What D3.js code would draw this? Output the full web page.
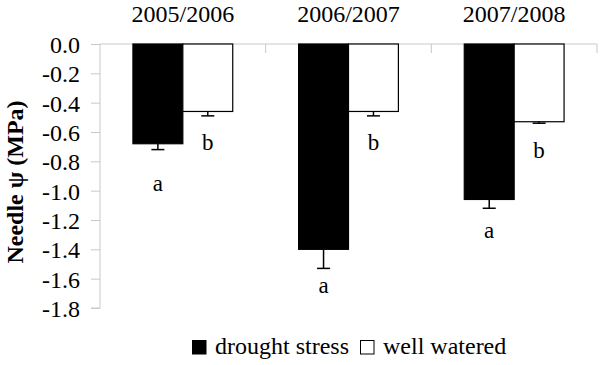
<!DOCTYPE html>
<html>
<head>
<meta charset="utf-8">
<script src="https://cdn.jsdelivr.net/npm/d3@7"></script>
<style>
  html, body { margin: 0; padding: 0; background: #fff; }
  svg { display: block; }
</style>
</head>
<body>
<svg id="chart" width="600" height="365"></svg>
<script>
// ---- data ----
const categories = ["2005/2006", "2006/2007", "2007/2008"];
const seriesNames = ["drought stress", "well watered"];
const droughtValues = [-0.68, -1.40, -1.06];
const droughtErrors = [0.04, 0.13, 0.06];
const wateredValues = [-0.46, -0.46, -0.53];
const wateredErrors = [0.03, 0.03, 0.01];
const droughtLetters = ["a", "a", "a"];
const wateredLetters = ["b", "b", "b"];
// letter baseline positions, in MPa units
const droughtLetterAt = [-1.00, -1.70, -1.32];
const wateredLetterAt = [-0.72, -0.72, -0.78];
const yTicks = [0, -0.2, -0.4, -0.6, -0.8, -1.0, -1.2, -1.4, -1.6, -1.8];
const yTitle = "Needle ψ (MPa)";

const seriesFill = { "drought stress": "#000000", "well watered": "#ffffff" };

const series = [
  { name: seriesNames[0], values: droughtValues, errors: droughtErrors, letters: droughtLetters, letterAt: droughtLetterAt },
  { name: seriesNames[1], values: wateredValues, errors: wateredErrors, letters: wateredLetters, letterAt: wateredLetterAt }
];

const FONT = "'Liberation Serif'";
const svg = d3.select("#chart");
const mLeft = 100, mRight = 597, mTop = 44, mBottom = 308;
const axisColor = "#c8c8c8";

const x0 = d3.scaleBand().domain(categories).range([mLeft, mRight]).paddingInner(0).paddingOuter(0);
const x1 = d3.scaleBand().domain(seriesNames).range([0, x0.bandwidth()]).paddingInner(0).paddingOuter(0.66);
const y = d3.scaleLinear().domain([-1.8, 0]).range([mBottom, mTop]);

// y axis
const yAxis = d3.axisLeft(y).tickValues(yTicks).tickSize(9).tickPadding(11)
  .tickFormat(d => d.toFixed(1));
const gy = svg.append("g").attr("transform", `translate(${mLeft},0)`).call(yAxis);
gy.attr("font-family", null).attr("font-size", null);
gy.select(".domain").attr("stroke", axisColor).attr("d", `M-9,${y(-1.8)}H0V${y(0)}`);
gy.selectAll(".tick line").attr("stroke", axisColor);
gy.selectAll(".tick text").style("font-size", "24px").attr("fill", "#000")
  .style("font-family", FONT).attr("dy", "0.36em");

// category axis at zero line (top)
const gx = svg.append("g").attr("transform", `translate(0,${y(0)})`);
gx.append("line").attr("x1", mLeft).attr("x2", mRight).attr("y1", 0).attr("y2", 0).attr("stroke", axisColor);
const boundaries = categories.slice(1).map(c => x0(c)).concat([mRight]);
gx.selectAll("line.sep").data(boundaries).join("line").attr("class", "sep")
  .attr("x1", d => d).attr("x2", d => d).attr("y1", 0).attr("y2", 9).attr("stroke", axisColor);

// category labels
svg.append("g").selectAll("text").data(categories).join("text")
  .attr("x", d => x0(d) + x0.bandwidth() / 2)
  .attr("y", 22)
  .attr("text-anchor", "middle")
  .style("font-family", FONT)
  .style("font-size", "24px")
  .text(d => d);

// bars
const groups = svg.append("g").selectAll("g").data(series).join("g");
groups.each(function(s) {
  const g = d3.select(this);
  const items = categories.map((c, i) => ({ c, v: s.values[i], e: s.errors[i], l: s.letters[i], la: s.letterAt[i] }));
  const bx = d => x0(d.c) + x1(s.name);
  const bw = x1.bandwidth();
  g.selectAll("rect").data(items).join("rect")
    .attr("x", bx).attr("width", bw)
    .attr("y", y(0)).attr("height", d => y(d.v) - y(0))
    .attr("fill", seriesFill[s.name]).attr("stroke", "#000").attr("stroke-width", 1.2);
  g.selectAll("line.err").data(items).join("line").attr("class", "err")
    .attr("x1", d => bx(d) + bw / 2).attr("x2", d => bx(d) + bw / 2)
    .attr("y1", d => y(d.v)).attr("y2", d => y(d.v - d.e))
    .attr("stroke", "#000").attr("stroke-width", 1.5);
  g.selectAll("line.cap").data(items).join("line").attr("class", "cap")
    .attr("x1", d => bx(d) + bw / 2 - 6.5).attr("x2", d => bx(d) + bw / 2 + 6.5)
    .attr("y1", d => y(d.v - d.e)).attr("y2", d => y(d.v - d.e))
    .attr("stroke", "#000").attr("stroke-width", 1.5);
  g.selectAll("text").data(items).join("text")
    .attr("x", d => bx(d) + bw / 2)
    .attr("y", d => y(d.la))
    .attr("text-anchor", "middle")
    .style("font-family", FONT)
    .style("font-size", "23px")
    .text(d => d.l);
});

// y title
svg.append("text")
  .attr("transform", `translate(23,${(mTop + mBottom) / 2 + 6}) rotate(-90)`)
  .attr("text-anchor", "middle")
  .style("font-family", FONT)
  .style("font-size", "24px")
  .style("font-weight", "bold")
  .text(yTitle);

// legend
const legend = svg.append("g").attr("transform", "translate(192,354)");
let lx = 0;
seriesNames.forEach(name => {
  legend.append("rect").attr("x", lx + 0.5).attr("y", -13.5).attr("width", 13.5).attr("height", 13.5)
    .attr("fill", seriesFill[name]).attr("stroke", "#000").attr("stroke-width", 1);
  const t = legend.append("text").attr("x", lx + 23).attr("y", 0)
    .style("font-family", FONT).style("font-size", "24px").text(name);
  lx += 23 + t.node().getComputedTextLength() + 11;
});
</script>
</body>
</html>
